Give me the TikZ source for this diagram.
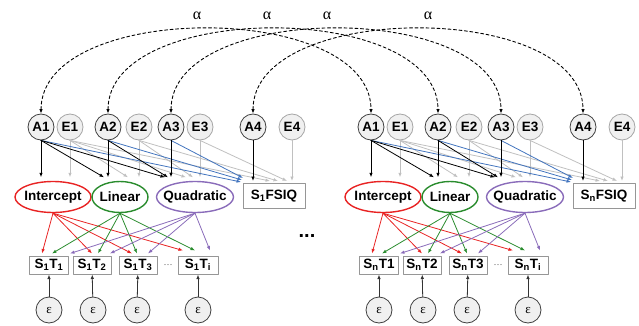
\documentclass[tikz,border=0pt]{standalone}
\usepackage{fontspec}
\setsansfont{Liberation Sans}
\newfontfamily\grkfont{Liberation Serif}
\usetikzlibrary{arrows.meta,shapes.geometric}
\definecolor{icptred}{RGB}{232,35,35}
\definecolor{lingreen}{RGB}{42,140,46}
\definecolor{quadviolet}{RGB}{138,108,186}
\definecolor{fsiqblue}{RGB}{66,116,190}
\definecolor{envgray}{RGB}{192,192,192}
\definecolor{boxgray}{RGB}{150,150,150}
\definecolor{circfill}{RGB}{240,240,240}

\begin{document}
\begin{tikzpicture}[x=1pt,y=-1pt,line cap=round,line join=round,
  lbl/.style={font=\sffamily\bfseries\fontsize{13.5}{15}\selectfont},
  acirc/.style={lbl,circle,draw=black!75,line width=0.8pt,inner sep=0pt,minimum size=26pt,fill=circfill},
  ecirc/.style={acirc,draw=black!35},
  fac/.style={lbl,ellipse,line width=1.4pt,inner xsep=-6pt,inner ysep=0pt,minimum height=31pt},
  obs/.style={lbl,rectangle,draw=boxgray,line width=1pt,fill=white,inner sep=0pt,minimum height=18pt},
  epsc/.style={acirc,font=\grkfont\fontsize{13}{13}\selectfont},
  corrlbl/.style={font=\grkfont\fontsize{16}{16}\selectfont},
  arr/.style={-{Latex[length=4.5pt,width=3.5pt]},line width=0.8pt},
  corr/.style={<->,>={Latex[length=4.5pt,width=3.5pt]},line width=0.9pt,dash pattern=on 3pt off 2.5pt}]
  \useasboundingbox (0,0) rectangle (639,326);
  \foreach \g/\dx/\s/\ta/\tb/\tc in {L/0/1/{\textsubscript{1}}/{\textsubscript{2}}/{\textsubscript{3}},R/330/n/1/2/3}{
  \begin{scope}[xshift=\dx pt]
    \node[acirc] (\g A1) at (41,127) {A1};
    \node[ecirc] (\g E1) at (70,127) {E1};
    \node[acirc] (\g A2) at (108,127) {A2};
    \node[ecirc] (\g E2) at (139,127) {E2};
    \node[acirc] (\g A3) at (171,127) {A3};
    \node[ecirc] (\g E3) at (200,127) {E3};
    \node[acirc] (\g A4) at (253,127) {A4};
    \node[ecirc] (\g E4) at (292,127) {E4};
    \node[fac,draw=icptred,minimum width=76pt] (\g int) at (53,197) {Intercept};
    \node[fac,draw=lingreen,minimum width=56pt] (\g lin) at (120,197) {Linear};
    \node[fac,draw=quadviolet,minimum width=77pt] (\g quad) at (195,197) {Quadratic};
    \node[obs,minimum width=62pt,minimum height=25pt] (\g fsiq) at (274,196) {S\textsubscript{\s}FSIQ};
    \node[obs,minimum width=39pt] (\g t1) at (49,265) {S\textsubscript{\s}T\ta};
    \node[obs,minimum width=38pt] (\g t2) at (92,265) {S\textsubscript{\s}T\tb};
    \node[obs,minimum width=38pt] (\g t3) at (138,265) {S\textsubscript{\s}T\tc};
    \node[font=\sffamily\fontsize{9}{9}\selectfont,text=black!70] (\g dots) at (168,266) {···};
    \node[obs,minimum width=40pt] (\g ti) at (198,265) {S\textsubscript{\s}T\textsubscript{i}};
    \node[epsc] (\g e1) at (49,310) {ε};
    \node[epsc] (\g e2) at (93,310) {ε};
    \node[epsc] (\g e3) at (137,310) {ε};
    \node[epsc] (\g ei) at (198,310) {ε};
  \end{scope}
  \foreach \src/\tgt/\ox/\oy/\col in {E1/int/17/3.5/envgray,E1/lin/8/3.5/envgray,E2/lin/19/3.5/envgray,
      E1/quad/-9/3.5/envgray,E2/quad/-2/3.5/envgray,E3/quad/5/3.5/envgray,
      E1/fsiq/-4/2/envgray,E2/fsiq/4/2/envgray,E3/fsiq/13/2/envgray,E4/fsiq/18/2/envgray,
      A1/fsiq/-33/1/fsiqblue,A2/fsiq/-32/3/fsiqblue,A3/fsiq/-31/5/fsiqblue,
      A1/int/-12/3.5/black,A1/lin/-16/3.5/black,A2/lin/-12/3.5/black,
      A1/quad/-30/3.5/black,A2/quad/-27/3.5/black,A3/quad/-24/3.5/black,A4/fsiq/-21/2/black,
      int/t1/-7/2/icptred,int/t2/0/2/icptred,int/t3/-6/2/icptred,int/ti/-15/5/icptred,
      lin/t1/3/2/lingreen,lin/t2/6/2/lingreen,lin/t3/-1/2/lingreen,lin/ti/-3/5/lingreen,
      quad/t1/21/2/quadviolet,quad/t2/18/2/quadviolet,quad/t3/10/2/quadviolet,quad/ti/12/5/quadviolet}
    \draw[arr,\col] (\g\src.south) -- ([xshift=\ox pt,yshift=\oy pt]\g\tgt.north);
  \foreach \k in {1,2,3,i}
    \draw[arr,black!80] (\g e\k) -- (\g t\k);
  }
  \foreach \k in {1,...,4}
    \draw[corr] (LA\k.north) .. controls +(0,-113) and +(0,-113) .. (RA\k.north);
  \foreach \x [count=\n] in {197,267,327,428}
    \node[corrlbl] (al\n) at (\x,16) {α};
  \node[font=\sffamily\bfseries\fontsize{20}{20}\selectfont] (gap) at (307,236) {...};
\end{tikzpicture}
\end{document}
